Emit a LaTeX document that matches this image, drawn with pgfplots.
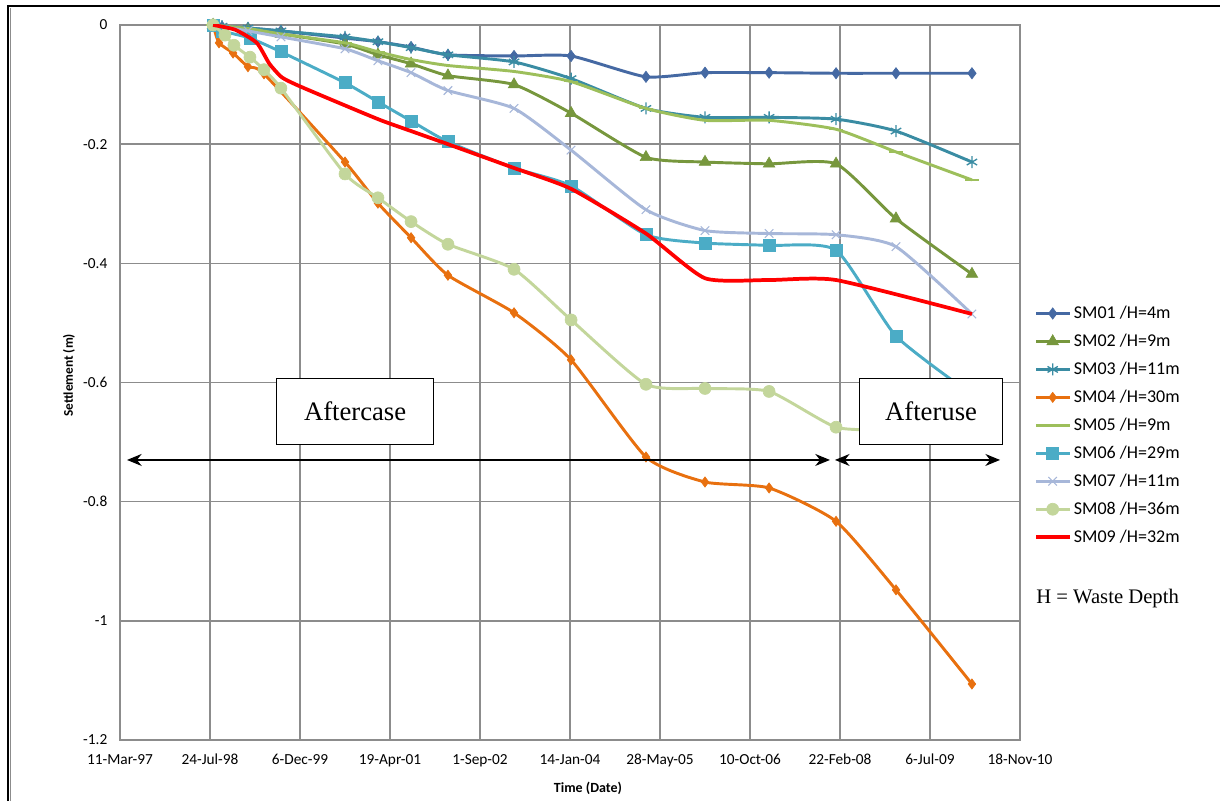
\documentclass[border=0pt]{standalone}
\usepackage{pgfplots}
\pgfplotsset{compat=1.18}
\usetikzlibrary{arrows.meta}
\usepackage{fontspec}
\setmainfont{Carlito}
\newfontfamily\tnr{Liberation Serif}
\definecolor{cA}{HTML}{4569A3}
\definecolor{cB}{HTML}{77973D}
\definecolor{cC}{HTML}{3A8CA3}
\definecolor{cD}{HTML}{E8700F}
\definecolor{cE}{HTML}{9DBF5B}
\definecolor{cF}{HTML}{4BACC6}
\definecolor{cG}{HTML}{A7B7D9}
\definecolor{cH}{HTML}{C3D69B}
\definecolor{cI}{HTML}{FF0000}
\definecolor{gridc}{HTML}{8C8C8C}
\begin{document}
\begin{tikzpicture}
\useasboundingbox (0,0) rectangle (915pt,600.75pt);
\draw[black,line width=1.6pt] (6pt,0) -- (6pt,596.25pt) -- (915pt,596.25pt);
\draw[gridc,line width=0.8pt] (7.8pt,0) -- (7.8pt,595pt);
\begin{axis}[
  at={(90pt,45.75pt)}, anchor=south west,
  width=675pt, height=536.25pt, scale only axis,
  xmin=0, xmax=5000, ymin=-1.2, ymax=0,
  xtick={0,500,...,5000},
  xticklabels={11-Mar-97,24-Jul-98,6-Dec-99,19-Apr-01,1-Sep-02,14-Jan-04,28-May-05,10-Oct-06,22-Feb-08,6-Jul-09,18-Nov-10},
  ytick={-1.2,-1,-0.8,-0.6,-0.4,-0.2,0},
  yticklabels={-1.2,-1,-0.8,-0.6,-0.4,-0.2,0},
  major tick length=0pt,
  tick label style={font=\fontsize{11.5}{13}\selectfont},
  xticklabel style={yshift=-7pt},
  yticklabel style={xshift=-6pt},
  grid=major,
  grid style={gridc,line width=1.1pt},
  axis line style={gridc,line width=1.1pt},
  clip mode=individual,
  xlabel={\textbf{Time (Date)}},
  xlabel style={font=\fontsize{10.5}{12}\selectfont, at={(0.52,0)}, anchor=north, yshift=-28pt},
  ylabel={\textbf{Settlement (m)}},
  ylabel style={font=\fontsize{10}{12}\selectfont, at={(-0.045,0.51)}, anchor=south},
  legend style={draw=none, fill=none, at={(1.011,0.6145)}, anchor=north west,
    nodes={font=\fontsize{13.5}{15}\selectfont}, row sep=6.1pt, cells={anchor=west}},
  legend image code/.code={\draw[mark repeat=2,mark phase=2,#1] plot coordinates {(0pt,0pt)(12.5pt,0pt)(25pt,0pt)};},
  every axis plot/.append style={line width=2.2pt, smooth, tension=0.35},
]
\addplot[cA, mark=diamond*, mark size=4.2pt, mark options={solid,line width=0.5pt}] coordinates {
(517,0)(567,-0.003)(711,-0.005)(894,-0.01)(1250,-0.022)(1433,-0.028)(1617,-0.037)(1822,-0.05)(2189,-0.052)(2506,-0.052)(2922,-0.087)(3250,-0.08)(3606,-0.08)(3978,-0.081)(4311,-0.081)(4733,-0.081)};
\addlegendentry{SM01 /H=4m}
\addplot[cB, mark=triangle*, mark size=5pt, mark options={solid,line width=0.5pt}] coordinates {
(517,0)(711,-0.008)(894,-0.015)(1250,-0.032)(1433,-0.05)(1617,-0.065)(1822,-0.085)(2189,-0.1)(2506,-0.148)(2922,-0.222)(3250,-0.23)(3606,-0.233)(3978,-0.233)(4311,-0.325)(4733,-0.418)};
\addlegendentry{SM02 /H=9m}
\addplot[cC, mark=asterisk, mark size=4.5pt, mark options={solid,line width=1pt}] coordinates {
(517,0)(567,-0.002)(711,-0.005)(894,-0.01)(1250,-0.02)(1433,-0.028)(1617,-0.038)(1822,-0.05)(2189,-0.062)(2506,-0.09)(2922,-0.14)(3250,-0.155)(3606,-0.155)(3978,-0.158)(4311,-0.178)(4733,-0.23)};
\addlegendentry{SM03 /H=11m}
\addplot[cD, mark=diamond*, mark size=3.8pt, mark options={solid,line width=0.5pt}] coordinates {
(517,0)(550,-0.03)(628,-0.047)(711,-0.07)(800,-0.082)(1250,-0.23)(1433,-0.299)(1617,-0.357)(1822,-0.42)(2189,-0.483)(2506,-0.562)(2922,-0.725)(3250,-0.767)(3606,-0.777)(3978,-0.833)(4311,-0.948)(4733,-1.106)};
\addlegendentry{SM04 /H=30m}
\addplot[cE, mark=-, mark size=5pt, mark options={solid,line width=1pt}] coordinates {
(517,0)(711,-0.006)(894,-0.015)(1250,-0.03)(1433,-0.045)(1617,-0.058)(1822,-0.068)(2189,-0.078)(2506,-0.095)(2922,-0.14)(3250,-0.16)(3606,-0.16)(3978,-0.175)(4311,-0.213)(4733,-0.26)};
\addlegendentry{SM05 /H=9m}
\addplot[cF, mark=square*, mark size=4.5pt, mark options={solid,line width=0.5pt}] coordinates {
(517,0)(567,-0.01)(722,-0.022)(894,-0.045)(1250,-0.097)(1433,-0.129)(1617,-0.161)(1822,-0.196)(2189,-0.24)(2506,-0.27)(2922,-0.352)(3250,-0.366)(3606,-0.37)(3978,-0.378)(4311,-0.522)(4733,-0.62)};
\addlegendentry{SM06 /H=29m}
\addplot[cG, mark=x, mark size=4.5pt, mark options={solid,line width=0.8pt}] coordinates {
(517,0)(711,-0.01)(894,-0.02)(1250,-0.04)(1433,-0.06)(1617,-0.08)(1822,-0.11)(2189,-0.14)(2506,-0.21)(2922,-0.31)(3250,-0.345)(3606,-0.35)(3978,-0.352)(4311,-0.372)(4733,-0.485)};
\addlegendentry{SM07 /H=11m}
\addplot[cH, mark=*, mark size=4.5pt, mark options={solid,line width=0.5pt}] coordinates {
(517,0)(583,-0.017)(633,-0.034)(722,-0.054)(800,-0.075)(894,-0.106)(1250,-0.25)(1433,-0.29)(1617,-0.33)(1822,-0.368)(2189,-0.41)(2506,-0.495)(2922,-0.603)(3250,-0.61)(3606,-0.615)(3978,-0.675)(4311,-0.68)(4733,-0.69)};
\addlegendentry{SM08 /H=36m}
\addplot[cI, line width=2.8pt, no marks] coordinates {
(517,0)(640,-0.008)(760,-0.03)(830,-0.065)(900,-0.088)(1000,-0.103)(1250,-0.135)(1450,-0.16)(1617,-0.178)(1822,-0.2)(2189,-0.24)(2506,-0.275)(2922,-0.35)(3250,-0.425)(3606,-0.428)(3978,-0.428)(4733,-0.485)};
\addlegendentry{SM09 /H=32m}
\draw[black, line width=0.9pt, {Stealth[length=11pt,width=9pt]}-{Stealth[length=11pt,width=9pt]}] (axis cs:39,-0.730) -- (axis cs:3944,-0.730);
\draw[black, line width=0.9pt, {Stealth[length=11pt,width=9pt]}-{Stealth[length=11pt,width=9pt]}] (axis cs:3972,-0.730) -- (axis cs:4889,-0.730);
\node[draw=black, fill=white, line width=0.8pt, minimum width=117.75pt, minimum height=49.5pt, inner sep=0pt, font=\tnr\fontsize{20}{24}\selectfont] at (axis cs:1306,-0.648) {Aftercase};
\node[draw=black, fill=white, line width=0.8pt, minimum width=107.25pt, minimum height=49.5pt, inner sep=0pt, font=\tnr\fontsize{20}{24}\selectfont] at (axis cs:4506,-0.648) {Afteruse};
\end{axis}
\node[anchor=west, font=\tnr\fontsize{15.5}{18}\selectfont, inner sep=0pt] at (777pt,151.5pt) {H = Waste Depth};
\end{tikzpicture}
\end{document}
